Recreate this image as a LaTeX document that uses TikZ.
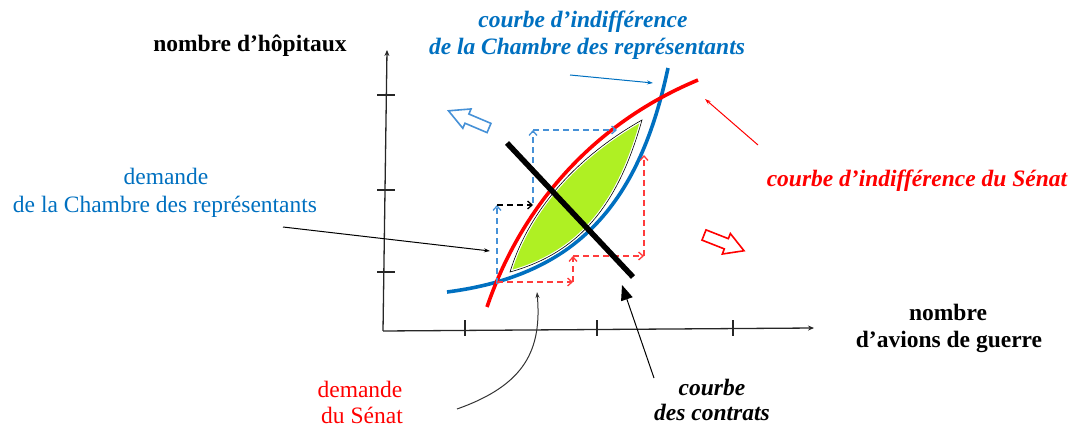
\documentclass[tikz,border=0pt]{standalone}
\usepackage{fontspec}
\setmainfont{Liberation Serif}
\usetikzlibrary{arrows.meta}
\definecolor{cblue}{RGB}{0,112,192}
\definecolor{dblue}{RGB}{70,145,215}
\definecolor{dred}{RGB}{255,60,60}
\definecolor{lensgreen}{RGB}{175,240,35}
\begin{document}
\begin{tikzpicture}[x=1pt,y=-1pt,
  lbl/.style={font=\fontsize{23.5}{28}\selectfont, anchor=base, inner sep=0pt},
  axisline/.style={draw=black!85, line width=1.3pt},
  tick/.style={draw=black!85, line width=1.2pt},
  dsh/.style={line width=1.3pt, dash pattern=on 6pt off 4pt, -{Straight Barb[length=4.5pt,width=8pt]}},
  thin arrow/.style={line width=1pt, -{Stealth[length=6pt,width=4pt]}},
  hollow/.style={line width=1.6pt, line join=miter},
  curve/.style={line width=3.6pt}
]
\useasboundingbox (0,0) rectangle (1075,427);

% axes
\coordinate (O) at (383,331);
\coordinate (Ytop) at (387,50);
\coordinate (Xend) at (814,328);
\draw[axisline, -{Stealth[length=6pt,width=5pt]}] (O) -- (Ytop);
\draw[axisline, -{Stealth[length=6pt,width=5pt]}] (O) -- (Xend);
\foreach \y in {95,190,272} \draw[tick] (377,\y) -- (395,\y);
\foreach \x in {465,597,733} \draw[tick] (\x,320) -- (\x,336);

% curves
\coordinate (B0) at (447,292);
\coordinate (B2) at (668,68);
\draw[curve, cblue] (B0) .. controls (580,275) and (640,200) .. (B2);
\coordinate (R0) at (487,307);
\coordinate (R2) at (698,80);
\draw[curve, red] (R0) .. controls (520,210) and (590,125) .. (R2);

% lens
\coordinate (L1) at (510,272);
\coordinate (L2) at (642,120);
\path[fill=lensgreen, draw=white, line width=3pt] (L1) .. controls (530,207) and (580,155) .. (L2)
  .. controls (622,190) and (590,250) .. cycle;
\draw[black, line width=0.6pt] (L1) .. controls (530,207) and (580,155) .. (L2)
  .. controls (622,190) and (590,250) .. cycle;

% dashed steps
\coordinate (P0) at (497,284);
\coordinate (P1) at (497,205);
\coordinate (P2) at (533,205);
\coordinate (P3) at (533,203);
\coordinate (P4) at (533,130);
\coordinate (P5) at (617,130);
\draw[dsh, dblue] (P0) -- (P1);
\draw[dsh, black] (P1) -- (P2);
\draw[dsh, dblue] (P3) -- (P4);
\draw[dsh, dblue] (P4) -- (P5);
\coordinate (Q0) at (497,282);
\coordinate (Q1) at (573,282);
\coordinate (Q2) at (573,256);
\coordinate (Q3) at (644,256);
\coordinate (Q4) at (644,155);
\draw[dsh, dred] (Q0) -- (Q1);
\draw[dsh, dred] (Q1) -- (Q2);
\draw[dsh, dred] (Q2) -- (Q3);
\draw[dsh, dred] (Q3) -- (Q4);

% contract curve
\coordinate (C0) at (507,143);
\coordinate (C1) at (633,277);
\draw[line width=5.5pt] (C0) -- (C1);

% hollow arrows
\draw[hollow, dblue, shift={(489,128)}, rotate=157]
  (0,-5) -- (24,-5) -- (24,-10.5) -- (44,0) -- (24,10.5) -- (24,5) -- (0,5) -- cycle;
\draw[hollow, red, shift={(704,235)}, rotate=-21.5]
  (0,-5.5) -- (24,-5.5) -- (24,-11) -- (43,0) -- (24,11) -- (24,5.5) -- (0,5.5) -- cycle;

% labels
\node[lbl, font=\fontsize{23.5}{28}\selectfont\bfseries] (hop) at (250,52) {nombre d’hôpitaux};
\node[lbl, cblue, font=\fontsize{23.5}{28}\selectfont\bfseries\itshape] (ch1) at (583,28) {courbe d’indifférence};
\node[lbl, cblue, font=\fontsize{23.5}{28}\selectfont\bfseries\itshape] (ch2) at (587,55) {de la Chambre des représentants};
\node[lbl, cblue] (dem1) at (166,185) {demande};
\node[lbl, cblue] (dem2) at (165,213) {de la Chambre des représentants};
\node[lbl, red, font=\fontsize{23.5}{28}\selectfont\bfseries\itshape] (sen) at (917,187) {courbe d’indifférence du Sénat};
\node[lbl, font=\fontsize{23.5}{28}\selectfont\bfseries] (av1) at (948,320) {nombre};
\node[lbl, font=\fontsize{23.5}{28}\selectfont\bfseries] (av2) at (949,347) {d’avions de guerre};
\node[lbl, red] (sd1) at (360,397) {demande};
\node[lbl, red] (sd2) at (362,423) {du Sénat};
\node[lbl, font=\fontsize{23.5}{28}\selectfont\bfseries\itshape] (cc1) at (712,395) {courbe};
\node[lbl, font=\fontsize{23.5}{28}\selectfont\bfseries\itshape] (cc2) at (712,420) {des contrats};

% pointer arrows
\coordinate (a1s) at (570,75);
\coordinate (a1e) at (653,83);
\draw[thin arrow, cblue] (a1s) -- (a1e);
\coordinate (a2s) at (758,145);
\coordinate (a2e) at (705,99);
\draw[thin arrow, red] (a2s) -- (a2e);
\coordinate (a3s) at (283,227);
\coordinate (a3e) at (490,251);
\draw[thin arrow, black] (a3s) -- (a3e);
\coordinate (a4s) at (457,409);
\coordinate (a4e) at (537,292);
\draw[thin arrow, black!80] (a4s) .. controls (525,385) and (542,350) .. (a4e);
\coordinate (a5s) at (654,378);
\coordinate (a5e) at (622,285);
\draw[line width=1pt, -{Triangle[length=15pt,width=12pt]}] (a5s) -- (a5e);
\end{tikzpicture}
\end{document}
